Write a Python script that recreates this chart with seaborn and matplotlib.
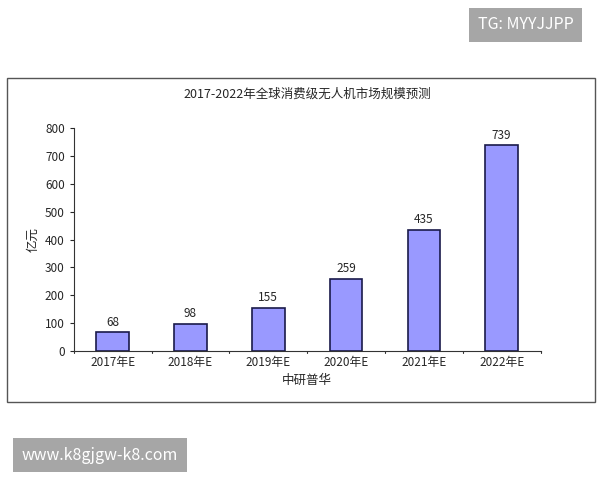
import matplotlib.pyplot as plt
import pandas as pd
import seaborn as sns
from matplotlib.patches import Rectangle

years = ["2017年E", "2018年E", "2019年E", "2020年E", "2021年E", "2022年E"]
values = [68, 98, 155, 259, 435, 739]

sns.set_style("white")
plt.rcParams["font.family"] = ["Noto Sans CJK SC", "DejaVu Sans"]

fig = plt.figure(figsize=(6, 4.8), dpi=100)
ax = fig.add_axes([0.123, 0.269, 0.778, 0.464])

df = pd.DataFrame({"year": years, "value": values})
sns.barplot(data=df, x="year", y="value", color="#9999FF", saturation=1,
            edgecolor="#1a1a4a", linewidth=1.2, width=0.42, ax=ax)

for i, v in enumerate(values):
    ax.text(i, v + 12, str(v), ha="center", va="bottom", fontsize=8.5)

ax.set_ylim(0, 800)
ax.set_yticks(range(0, 801, 100))
ax.set_xlim(-0.5, len(years) - 0.5)
ax.tick_params(axis="both", labelsize=8.5, length=3, direction="out", left=True)
ax.tick_params(axis="x", length=0)
for i in range(len(years) + 1):
    ax.plot([i - 0.5, i - 0.5], [0, -8], color="#333333", lw=0.8, clip_on=False)
for s in ["top", "right"]:
    ax.spines[s].set_visible(False)
for s in ["left", "bottom"]:
    ax.spines[s].set_color("#333333")
ax.set_xlabel("中研普华", fontsize=9)
ax.set_ylabel("亿元", fontsize=9)
ax.set_title("2017-2022年全球消费级无人机市场规模预测", fontsize=9, pad=22)

fig.patches.append(Rectangle((0.012, 0.1625), 0.98, 0.675, transform=fig.transFigure,
                             fill=False, edgecolor="#555555", lw=1))

fig.text(0.876, 0.948, "TG: MYYJJPP", ha="center", va="center", fontsize=11.5,
         color="white", bbox=dict(boxstyle="square,pad=0.55", fc="#a6a6a6", ec="none"))
fig.text(0.166, 0.052, "www.k8gjgw-k8.com", ha="center", va="center", fontsize=11.5,
         color="white", bbox=dict(boxstyle="square,pad=0.55", fc="#a6a6a6", ec="none"))

fig.savefig("out.png", dpi=100)
